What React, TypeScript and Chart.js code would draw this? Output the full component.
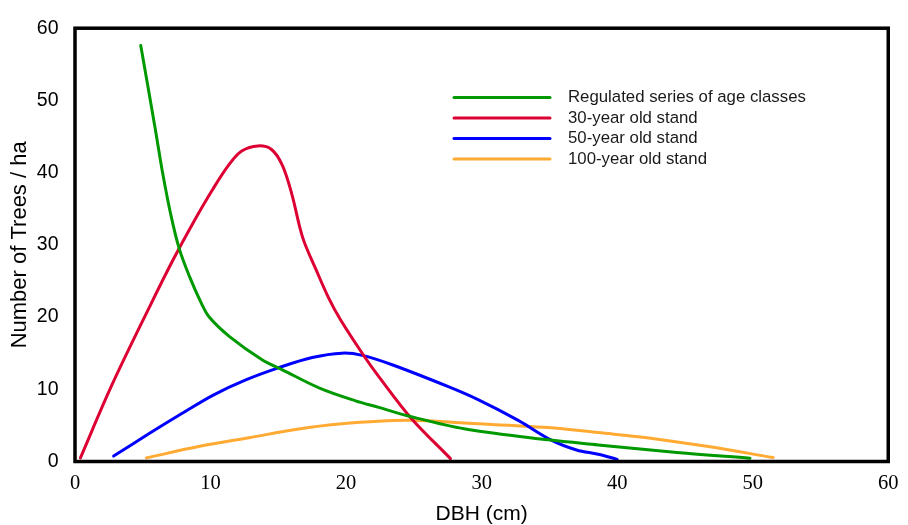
import React, { useEffect, useRef } from "react";
import { Chart, registerables } from "chart.js";

Chart.register(...registerables);

const seriesLabels = [
  "Regulated series of age classes",
  "30-year old stand",
  "50-year old stand",
  "100-year old stand",
];
const seriesColors = ["#009900", "#dd0033", "#0000ff", "#ffaa33"];

const regulatedX = [4.85, 5.9, 6.5, 7.1, 7.7, 8.45, 9.3, 9.9, 11.4, 13.8, 15.3, 18.0, 20.7, 22.4, 24.6, 28.8, 34.9, 38.6, 44.4, 49.8];
const regulatedY = [57.6, 46.3, 39.6, 33.9, 29.4, 25.6, 22.0, 20.0, 17.3, 14.1, 12.7, 10.2, 8.4, 7.5, 6.3, 4.5, 3.0, 2.3, 1.25, 0.45];

const stand30X = [0.4, 2.7, 5.6, 7.2, 8.7, 10.2, 11.4, 12.3, 13.5, 14.5, 15.3, 16.0, 16.8, 17.8, 18.7, 19.6, 21.4, 22.4, 24.8, 27.7];
const stand30Y = [0.5, 10.5, 21.8, 27.8, 33.0, 37.8, 41.2, 43.0, 43.7, 43.2, 41.0, 37.0, 31.0, 26.5, 22.7, 19.6, 14.4, 11.8, 6.0, 0.4];

const stand50X = [2.85, 5.5, 7.85, 10.2, 12.6, 15.05, 17.5, 19.7, 21.2, 23.4, 27.5, 29.7, 32.7, 35.1, 37.0, 38.6, 40.0];
const stand50Y = [0.75, 3.9, 6.6, 9.2, 11.3, 13.0, 14.4, 15.0, 14.7, 13.4, 10.4, 8.6, 5.7, 3.0, 1.6, 1.0, 0.3];

const stand100X = [5.27, 9.2, 12.85, 16.5, 19.5, 24.6, 29.0, 34.9, 38.6, 42.2, 46.6, 51.5];
const stand100Y = [0.5, 2.1, 3.3, 4.5, 5.2, 5.7, 5.3, 4.7, 4.0, 3.3, 2.1, 0.55];

const xTicks = [0, 10, 20, 30, 40, 50, 60];
const yTicks = [0, 10, 20, 30, 40, 50, 60];

const toPoints = (xs: number[], ys: number[]) => xs.map((x, i) => ({ x, y: ys[i] }));

const frameAndLegend = {
  id: "frameAndLegend",
  afterDatasetsDraw(chart: any) {
    const { ctx, chartArea } = chart;
    ctx.save();
    ctx.strokeStyle = "#000";
    ctx.lineWidth = 3.5;
    ctx.strokeRect(chartArea.left, chartArea.top, chartArea.right - chartArea.left, chartArea.bottom - chartArea.top);
    ctx.restore();
  },
  afterDraw(chart: any) {
    const { ctx } = chart;
    ctx.save();
    chart.data.datasets.forEach((ds: any, i: number) => {
      const y = 97.5 + i * 20.5;
      ctx.strokeStyle = ds.borderColor;
      ctx.lineWidth = 3;
      ctx.lineCap = "round";
      ctx.beginPath();
      ctx.moveTo(454, y);
      ctx.lineTo(550, y);
      ctx.stroke();
      ctx.fillStyle = "#1a1a1a";
      ctx.font = "16.8px 'Liberation Sans', Arial, sans-serif";
      ctx.textBaseline = "middle";
      ctx.textAlign = "left";
      ctx.fillText(ds.label, 568, y);
    });
    ctx.restore();
  },
};

export default function App() {
  const canvasRef = useRef<HTMLCanvasElement | null>(null);

  useEffect(() => {
    if (!canvasRef.current) return;
    const seriesX = [regulatedX, stand30X, stand50X, stand100X];
    const seriesY = [regulatedY, stand30Y, stand50Y, stand100Y];
    const chart = new Chart(canvasRef.current, {
      type: "line",
      data: {
        datasets: seriesLabels.map((label, i) => ({
          label,
          data: toPoints(seriesX[i], seriesY[i]),
          borderColor: seriesColors[i],
          backgroundColor: seriesColors[i],
          borderWidth: 3,
          pointRadius: 0,
          fill: false,
          tension: 0.35,
          borderCapStyle: "round" as const,
          borderJoinStyle: "round" as const,
        })),
      },
      options: {
        animation: false,
        responsive: true,
        maintainAspectRatio: false,
        layout: { padding: { left: 0, top: 17, right: 16, bottom: 0 } },
        plugins: { legend: { display: false }, tooltip: { enabled: false } },
        scales: {
          x: {
            type: "linear",
            min: 0,
            max: 60,
            afterFit: (scale: any) => {
              scale.height = 63.5;
            },
            afterBuildTicks: (scale: any) => {
              scale.ticks = xTicks.map((v) => ({ value: v }));
            },
            grid: { display: false, drawTicks: false },
            border: { display: false },
            ticks: {
              padding: 9.5,
              color: "#000",
              maxRotation: 0,
              autoSkip: false,
              font: { family: "'Liberation Serif', 'Times New Roman', serif", size: 20.5 },
            },
            title: {
              display: true,
              text: "DBH (cm)",
              color: "#000",
              padding: { top: 0, bottom: 0 },
              font: { family: "'Liberation Sans', Arial, sans-serif", size: 21, lineHeight: 1 },
            },
          },
          y: {
            type: "linear",
            min: 0,
            max: 60,
            afterFit: (scale: any) => {
              scale.width = 75;
            },
            afterBuildTicks: (scale: any) => {
              scale.ticks = yTicks.map((v) => ({ value: v }));
            },
            grid: { display: false, drawTicks: false },
            border: { display: false },
            ticks: {
              padding: 16.5,
              color: "#000",
              autoSkip: false,
              font: { family: "'Liberation Sans', Arial, sans-serif", size: 19.5 },
            },
            title: {
              display: true,
              text: "Number of Trees / ha",
              color: "#000",
              padding: { top: 9, bottom: 0 },
              font: { family: "'Liberation Sans', Arial, sans-serif", size: 22, lineHeight: 1 },
            },
          },
        },
      },
      plugins: [frameAndLegend],
    });
    return () => chart.destroy();
  }, []);

  return (
    <div style={{ position: "absolute", left: 0, top: 0, width: 908, height: 525, background: "#fff" }}>
      <canvas ref={canvasRef} />
    </div>
  );
}
